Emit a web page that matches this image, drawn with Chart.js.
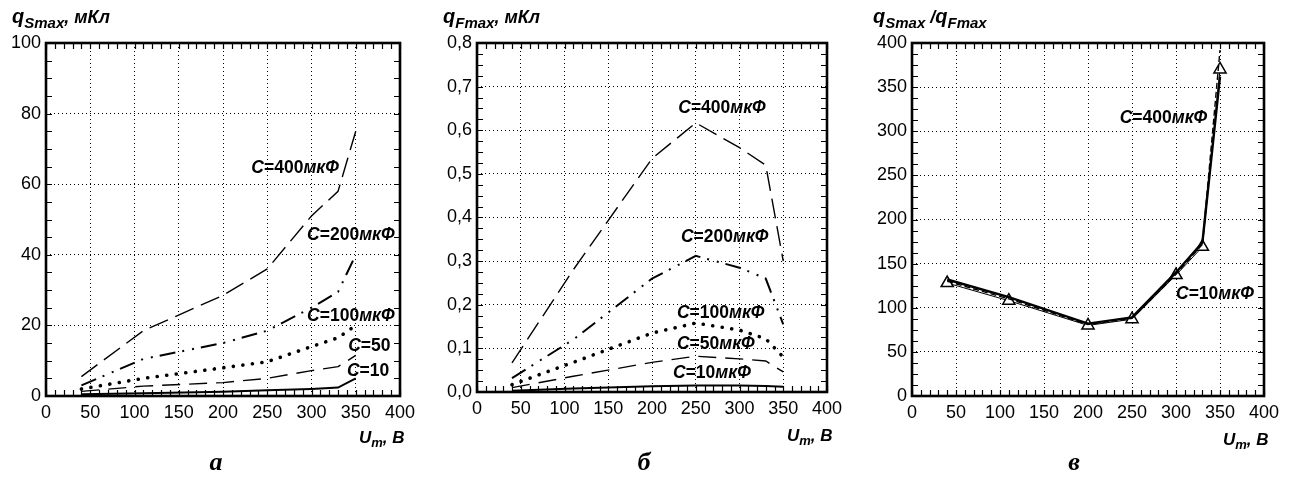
<!DOCTYPE html>
<html>
<head>
<meta charset="utf-8">
<script src="https://cdn.jsdelivr.net/npm/chart.js@4/dist/chart.umd.min.js"></script>
<style>
  html, body { margin: 0; padding: 0; background: #fff; }
  #page { position: relative; width: 1290px; height: 486px; overflow: hidden; }
  canvas { position: absolute; top: 0; }
  .ttl {
    position: absolute; white-space: nowrap; line-height: 1; color: #000;
    font-family: 'Liberation Sans', Arial, sans-serif; font-weight: bold; font-style: italic;
  }
  .ttl .q   { font-size: 20px; }
  .ttl .u   { font-size: 17px; }
  .ttl .un  { font-size: 18px; }
  .ttl sub  { font-size: 15px; vertical-align: -5px; line-height: 0; }
  .ttl sub.m { font-size: 13px; vertical-align: -4px; }
  .letter {
    position: absolute; width: 40px; margin-left: -20px; text-align: center; line-height: 1;
    font-family: 'Liberation Serif', 'Times New Roman', serif; font-weight: bold; font-style: italic;
    font-size: 26px; color: #000;
  }
</style>
</head>
<body>
<div id="page">
  <canvas id="chartA" width="430" height="486" style="left:0"></canvas>
  <canvas id="chartB" width="430" height="486" style="left:430px"></canvas>
  <canvas id="chartC" width="430" height="486" style="left:860px"></canvas>

  <div class="ttl" style="left:12px;top:6px"><span class="q">q</span><sub>Smax</sub><span class="un">, мКл</span></div>
  <div class="ttl" style="left:443px;top:6px"><span class="q">q</span><sub>Fmax</sub><span class="un">, мКл</span></div>
  <div class="ttl" style="left:873px;top:6px"><span class="q">q</span><sub>Smax</sub><span class="un"> /</span><span class="q">q</span><sub>Fmax</sub></div>

  <div class="ttl" style="left:359px;top:429px"><span class="u">U</span><sub class="m">m</sub><span class="u">, В</span></div>
  <div class="ttl" style="left:787px;top:427px"><span class="u">U</span><sub class="m">m</sub><span class="u">, В</span></div>
  <div class="ttl" style="left:1223px;top:431px"><span class="u">U</span><sub class="m">m</sub><span class="u">, В</span></div>

  <div class="letter" style="left:216px;top:449px">а</div>
  <div class="letter" style="left:644px;top:449px">б</div>
  <div class="letter" style="left:1074px;top:449px">в</div>
</div>

<script>
// Амплитуда напряжения, В
const U_POINTS = [40, 110, 200, 250, 300, 330, 350];

// а — q_Smax, мКл
const qS_C400 = [5.5, 18.5, 28.5, 36, 51, 58, 75];
const qS_C200 = [3, 10.5, 15, 18.5, 25, 29.5, 40];
const qS_C100 = [2, 5, 8, 9.7, 14, 16.5, 20];
const qS_C50  = [1.3, 2.8, 3.8, 5, 7.2, 8.3, 11.5];
const qS_C10  = [0.5, 0.8, 1.2, 1.6, 2.0, 2.4, 5.0];

// б — q_Fmax, мКл
const qF_C400 = [0.067, 0.28, 0.535, 0.617, 0.56, 0.52, 0.30];
const qF_C200 = [0.032, 0.12, 0.26, 0.312, 0.285, 0.26, 0.155];
const qF_C100 = [0.017, 0.068, 0.135, 0.158, 0.142, 0.122, 0.08];
const qF_C50  = [0.01, 0.036, 0.068, 0.082, 0.076, 0.071, 0.046];
const qF_C10  = [0.003, 0.008, 0.013, 0.015, 0.015, 0.014, 0.012];

// в — q_Smax / q_Fmax
const ratio_C10  = [132, 112, 82, 89, 140, 174, 362];
const ratio_C400 = [130, 110, 81, 88, 138, 172, 392];
const ratio_mark = [128, 108, 80, 87, 137, 169, 370];

const FONT = "'Liberation Sans', Arial, sans-serif";

const pts = arr => U_POINTS.map((u, i) => ({ x: u, y: arr[i] }));

// ── стили кривых ───────────────────────────────────────────────────────────
const STYLE = {
  c400: { borderWidth: 1.4, borderDash: [20, 8] },
  c200: { borderWidth: 2,   borderDash: [16, 7, 2, 8, 2, 7] },
  c100: { borderWidth: 3.6, borderDash: [0.1, 9.5], borderCapStyle: 'round' },
  c50:  { borderWidth: 1.4, borderDash: [18, 9] },
  c10:  { borderWidth: 2 },
};

function line(arr, style) {
  return { data: pts(arr), borderColor: '#000', pointRadius: 0, tension: 0, fill: false, ...style };
}

// рамка + внутренние засечки
const framePlugin = {
  id: 'frame',
  afterDraw(chart, args, opts) {
    const { ctx, chartArea: a, scales: { x, y } } = chart;
    ctx.save();
    ctx.strokeStyle = '#000';
    ctx.lineWidth = 1.2;
    ctx.beginPath();
    for (let v = x.min; v <= x.max + 1e-9; v += opts.xMinor) {
      const px = Math.round(x.getPixelForValue(v)) + 0.5;
      ctx.moveTo(px, a.top);    ctx.lineTo(px, a.top + 6);
      ctx.moveTo(px, a.bottom); ctx.lineTo(px, a.bottom - 6);
    }
    for (let v = y.min; v <= y.max + 1e-9; v += opts.yMinor) {
      const py = Math.round(y.getPixelForValue(v)) + 0.5;
      ctx.moveTo(a.left, py);  ctx.lineTo(a.left + 6, py);
      ctx.moveTo(a.right, py); ctx.lineTo(a.right - 6, py);
    }
    ctx.stroke();
    ctx.lineWidth = 2.6;
    ctx.strokeRect(a.left, a.top, a.width, a.height);
    ctx.restore();
  },
};

// подписи кривых: «C=400мкФ» — C и мкФ курсивом
const curveLabels = {
  id: 'curveLabels',
  afterDatasetsDraw(chart, args, opts) {
    const { ctx, scales: { x, y } } = chart;
    ctx.save();
    ctx.fillStyle = '#000';
    ctx.textBaseline = 'middle';
    for (const [value, unit, u, v] of opts.items) {
      let px = x.getPixelForValue(u);
      const py = y.getPixelForValue(v);
      const parts = [['C', true], ['=' + value, false]];
      if (unit) parts.push(['мкФ', true]);
      for (const [t, it] of parts) {
        ctx.font = `${it ? 'italic ' : ''}bold 17.5px ${FONT}`;
        ctx.fillText(t, px, py);
        px += ctx.measureText(t).width;
      }
    }
    ctx.restore();
  },
};

function makePanel(id, area, yOpts, datasets, labels) {
  return new Chart(document.getElementById(id), {
    type: 'line',
    data: { datasets },
    plugins: [framePlugin, curveLabels],
    options: {
      responsive: false, animation: false, devicePixelRatio: 1,
      layout: { padding: { left: 0, top: area.top, right: 430 - area.right, bottom: 486 - area.bottom - 30 } },
      plugins: {
        legend: { display: false }, tooltip: { enabled: false },
        frame: { xMinor: 10, yMinor: yOpts.minor },
        curveLabels: { items: labels },
      },
      scales: {
        x: {
          type: 'linear', min: 0, max: 400,
          afterFit: s => { s.height = 30; },
          ticks: { stepSize: 50, autoSkip: false, maxRotation: 0, padding: 6, color: '#000', font: { family: FONT, size: 18 } },
          grid: { color: '#000', lineWidth: 1, drawTicks: false },
          border: { display: false, dash: [1, 3] },
        },
        y: {
          type: 'linear', min: 0, max: yOpts.max,
          afterFit: s => { s.width = area.left; },
          ticks: { stepSize: yOpts.step, padding: 5, color: '#000', font: { family: FONT, size: 18 }, callback: yOpts.fmt },
          grid: { color: '#000', lineWidth: 1, drawTicks: false },
          border: { display: false, dash: [1, 3] },
        },
      },
    },
  });
}

// ── а ──
makePanel('chartA', { left: 46, right: 400, top: 43, bottom: 396 },
  { max: 100, step: 20, minor: 5, fmt: v => String(v) },
  [line(qS_C400, STYLE.c400), line(qS_C200, STYLE.c200), line(qS_C100, STYLE.c100),
   line(qS_C50, STYLE.c50), line(qS_C10, STYLE.c10)],
  [['400', true, 232, 64.6], ['200', true, 295, 45.6], ['100', true, 295, 22.5],
   ['50', false, 341.5, 14], ['10', false, 340, 6.9]]);

// ── б ──
makePanel('chartB', { left: 47, right: 397, top: 43, bottom: 392 },
  { max: 0.8, step: 0.1, minor: 0.025, fmt: v => v.toFixed(1).replace('.', ',') },
  [line(qF_C400, STYLE.c400), line(qF_C200, STYLE.c200), line(qF_C100, STYLE.c100),
   line(qF_C50, STYLE.c50), line(qF_C10, STYLE.c10)],
  [['400', true, 230, 0.65], ['200', true, 233, 0.355], ['100', true, 228.5, 0.18],
   ['50', true, 228.5, 0.11], ['10', true, 224, 0.044]]);

// ── в ──
makePanel('chartC', { left: 52, right: 404, top: 43, bottom: 396 },
  { max: 400, step: 50, minor: 12.5, fmt: v => String(v) },
  [line(ratio_C10, { borderWidth: 2.4 }),
   line(ratio_C400, { borderWidth: 1.4, borderDash: [6, 3] }),
   { ...line(ratio_mark, { borderWidth: 1 }), pointStyle: 'triangle', pointRadius: 7,
     pointBackgroundColor: '#fff', pointBorderColor: '#000', pointBorderWidth: 1.5 }],
  [['400', true, 236, 314.7], ['10', true, 300, 115.6]]);
</script>
</body>
</html>
